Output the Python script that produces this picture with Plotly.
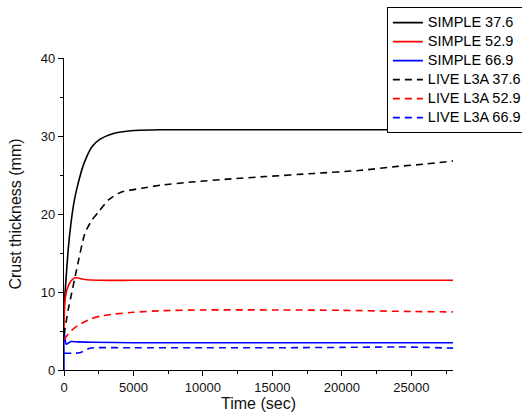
import plotly.graph_objects as go

# Crust thickness versus time, SIMPLE model vs LIVE L3A experiment
t_simple_376 = [0, 100, 300, 500, 750, 1000, 1400, 2000, 2600, 3500, 5000, 7000, 10000, 15000, 20000, 25000, 28000]
simple_376 = [8.0, 10.5, 15.4, 18.8, 21.8, 23.8, 26.3, 28.6, 29.6, 30.3, 30.7, 30.8, 30.8, 30.8, 30.8, 30.8, 30.8]

t_simple_529 = [0, 30, 100, 250, 500, 750, 1000, 1500, 2500, 5000, 10000, 15000, 20000, 25000, 28000]
simple_529 = [5.2, 7.5, 9.3, 10.5, 11.4, 11.8, 11.8, 11.6, 11.5, 11.5, 11.5, 11.5, 11.5, 11.5, 11.5]

t_simple_669 = [0, 0, 60, 165, 350, 525, 1000, 2000, 5000, 10000, 15000, 20000, 25000, 28000]
simple_669 = [0.0, 5.3, 4.2, 3.3, 3.5, 3.65, 3.6, 3.55, 3.5, 3.5, 3.5, 3.5, 3.5, 3.5]

t_live_376 = [0, 300, 500, 900, 1500, 2000, 2500, 3200, 4100, 5600, 7000, 9200, 12000, 14500, 18000, 21400, 24000, 26000, 28000]
live_376 = [4.5, 7.7, 9.4, 12.8, 17.5, 19.2, 20.3, 21.8, 22.8, 23.3, 23.7, 24.1, 24.5, 24.8, 25.2, 25.6, 26.1, 26.4, 26.8]

t_live_529 = [0, 500, 1000, 2000, 2600, 3500, 5000, 7000, 10000, 15000, 20000, 25000, 28000]
live_529 = [3.9, 5.0, 5.7, 6.6, 6.9, 7.15, 7.4, 7.6, 7.7, 7.7, 7.65, 7.5, 7.45]

t_live_669 = [0, 600, 1100, 1500, 1800, 2200, 5000, 10000, 15000, 20000, 24000, 26000, 28000]
live_669 = [2.15, 2.15, 2.2, 2.5, 2.75, 2.85, 2.85, 2.85, 2.85, 2.9, 2.95, 2.9, 2.8]

series = [
    ("SIMPLE 37.6", t_simple_376, simple_376, "#000000", "solid"),
    ("SIMPLE 52.9", t_simple_529, simple_529, "#ff0000", "solid"),
    ("SIMPLE 66.9", t_simple_669, simple_669, "#0000ff", "solid"),
    ("LIVE L3A 37.6", t_live_376, live_376, "#000000", "7px,5px"),
    ("LIVE L3A 52.9", t_live_529, live_529, "#ff0000", "7px,5px"),
    ("LIVE L3A 66.9", t_live_669, live_669, "#0000ff", "7px,5px"),
]

FONT = "Liberation Sans, Arial"

fig = go.Figure()
for name, t, y, color, dash in series:
    fig.add_trace(go.Scatter(
        x=t, y=y, mode="lines",
        # larger label text while keeping compact legend rows
        name=f'<span style="font-size:14.5px">{name}</span>',
        line=dict(color=color, width=1.6, dash=dash, shape="spline", smoothing=0.6),
    ))

axis_common = dict(
    showline=True, linecolor="black", linewidth=1.2, mirror=False,
    showgrid=False, zeroline=False, automargin=False,
    ticks="outside", ticklen=5, tickwidth=1, tickcolor="black",
    tickfont=dict(family=FONT, size=13, color="#111"),
    minor=dict(ticks="outside", ticklen=3, tickwidth=1, tickcolor="black"),
    tickformat="d",
)

fig.update_xaxes(
    range=[0, 28000], tickvals=[0, 5000, 10000, 15000, 20000, 25000],
    title=dict(text="Time (sec)", font=dict(family=FONT, size=16, color="#111"), standoff=4),
    **axis_common,
)
fig.update_xaxes(minor_dtick=2500)
fig.update_yaxes(
    range=[0, 40], tickvals=[0, 10, 20, 30, 40],
    title=dict(text="Crust thickness (mm)", font=dict(family=FONT, size=16, color="#111"), standoff=15),
    **axis_common,
)
fig.update_yaxes(minor_dtick=5)

fig.update_layout(
    width=522, height=416,
    # fixed margins; the legend box is allowed to run past the right edge
    margin=dict(l=64, r=69, t=58, b=46, autoexpand=False),
    paper_bgcolor="white", plot_bgcolor="white",
    showlegend=True,
    legend=dict(
        x=0.830, y=1.163, xanchor="left", yanchor="top",
        bgcolor="white", bordercolor="black", borderwidth=1,
        font=dict(family=FONT, size=12, color="#000"),
        tracegroupgap=0, itemwidth=30,
    ),
    hovermode=False,
)

fig.write_html("out.html")
